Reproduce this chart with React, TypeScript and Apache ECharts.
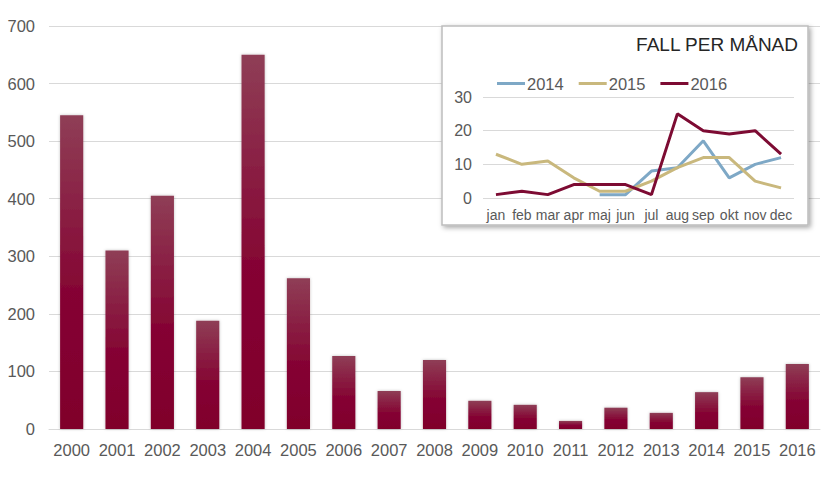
import React, { useEffect, useRef } from "react";
import * as echarts from "echarts";

const years = ["2000","2001","2002","2003","2004","2005","2006","2007","2008","2009","2010","2011","2012","2013","2014","2015","2016"];
const yearValues = [545, 310, 405, 188, 650, 262, 127, 66, 120, 49, 42, 14, 37, 28, 64, 90, 113];

const months = ["jan","feb","mar","apr","maj","jun","jul","aug","sep","okt","nov","dec"];
const s2014 = [null, null, null, null, 1, 1, 8, 9, 17, 6, 10, 12];
const s2015 = [13, 10, 11, 6, 2, 2, 5, 9, 12, 12, 5, 3];
const s2016 = [1, 2, 1, 4, 4, 4, 1, 25, 20, 19, 20, 13];

const FONT = "'Liberation Sans', Arial, sans-serif";
const GREY = "#595959";

export default function App() {
  const ref = useRef<HTMLDivElement>(null);
  useEffect(() => {
    const chart = echarts.init(ref.current!, null, { renderer: "svg" });
    const lineSeries = (name: string, data: (number | null)[], color: string) => ({
      name,
      type: "line",
      xAxisIndex: 1,
      yAxisIndex: 1,
      data,
      symbol: "none",
      z: 20,
      lineStyle: { color, width: 3 },
      itemStyle: { color },
    });
    chart.setOption({
      animation: false,
      textStyle: { fontFamily: FONT },
      grid: [
        { left: 49, right: 15, top: 26, bottom: 49, containLabel: false },
        { left: 483, width: 311, top: 97, height: 101, containLabel: false, z: 10 },
      ],
      xAxis: [
        {
          type: "category",
          data: years,
          gridIndex: 0,
          axisLine: { lineStyle: { color: "#d9d9d9" } },
          axisTick: { show: false },
          axisLabel: { color: GREY, fontSize: 16.5, margin: 12, interval: 0, fontFamily: FONT },
        },
        {
          type: "category",
          data: months,
          gridIndex: 1,
          z: 10,
          axisLine: { show: false },
          axisTick: { show: false },
          axisLabel: { color: GREY, fontSize: 14, margin: 10, interval: 0, fontFamily: FONT },
        },
      ],
      yAxis: [
        {
          type: "value",
          gridIndex: 0,
          min: 0,
          max: 700,
          interval: 100,
          axisLine: { show: false },
          axisTick: { show: false },
          splitLine: { lineStyle: { color: "#d9d9d9" } },
          axisLabel: { color: GREY, fontSize: 16.5, margin: 14, fontFamily: FONT },
        },
        {
          type: "value",
          gridIndex: 1,
          z: 10,
          min: 0,
          max: 30,
          interval: 10,
          axisLine: { show: false },
          axisTick: { show: false },
          splitLine: { lineStyle: { color: "#d9d9d9" } },
          axisLabel: { color: GREY, fontSize: 16, margin: 11, fontFamily: FONT },
        },
      ],
      legend: {
        left: 492,
        top: 70,
        z: 20,
        data: ["2014", "2015", "2016"],
        icon: "rect",
        itemWidth: 28,
        itemHeight: 3,
        itemGap: 15,
        textStyle: { color: GREY, fontSize: 16.5, fontFamily: FONT, padding: [0, 0, 0, -3] },
      },
      graphic: [
        {
          type: "rect",
          z: 5,
          shape: { x: 442, y: 26, width: 366, height: 199 },
          style: {
            fill: "#ffffff",
            stroke: "#bdbdbd",
            lineWidth: 1.5,
            shadowBlur: 5,
            shadowOffsetX: 2,
            shadowOffsetY: 2,
            shadowColor: "rgba(0,0,0,0.35)",
          },
        },
        {
          type: "text",
          z: 20,
          x: 798,
          y: 44,
          style: {
            text: "FALL PER MÅNAD",
            fill: "#262626",
            font: `19px ${FONT}`,
            textAlign: "right",
            textVerticalAlign: "middle",
          },
        },
      ],
      series: [
        {
          type: "bar",
          data: yearValues,
          barWidth: "51%",
          itemStyle: {
            color: new echarts.graphic.LinearGradient(0, 0, 0, 1, [
              { offset: 0, color: "#8f3e56" },
              { offset: 0.55, color: "#850634" },
              { offset: 1, color: "#80002b" },
            ]),
            shadowBlur: 3,
            shadowColor: "rgba(0,0,0,0.25)",
          },
        },
        lineSeries("2014", s2014, "#7ea8c6"),
        lineSeries("2015", s2015, "#c9b87d"),
        lineSeries("2016", s2016, "#7d0b33"),
      ],
    });
    return () => chart.dispose();
  }, []);
  return <div ref={ref} style={{ position: "absolute", left: 0, top: 0, width: 835, height: 478 }} />;
}
